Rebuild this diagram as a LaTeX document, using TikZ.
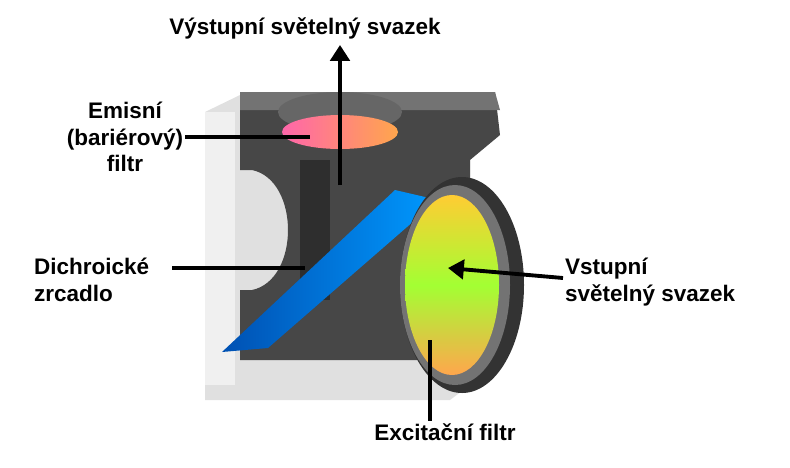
\documentclass[tikz,border=0pt]{standalone}
\usepackage{fontspec}
\setmainfont{Liberation Sans}
\usetikzlibrary{arrows.meta}
\usetikzlibrary{calc}

\tikzset{
    label/.style={font=\bfseries\fontsize{12.8}{15}\selectfont, inner sep=1pt},
    pointer/.style={line width=2.2pt, black},
    frame/.style={fill=black!72}
}

\begin{document}
\begin{tikzpicture}[x=0.02cm, y=-0.02cm]
        \useasboundingbox (0,0) rectangle (790,467);
        % transparent outer shell
        \fill[black!12] (205,112) -- (240,95) -- (470,95) -- (470,385) -- (450,400) -- (205,400) -- cycle;
        \fill[black!6] (205,112) -- (235,112) -- (235,385) -- (205,385) -- cycle;
        % dark holder
        \fill[frame] (240,92) -- (495,92) -- (500,135) -- (470,160) -- (470,360) -- (240,360) -- (240,290)
            -- (252,290) .. controls (300,280) and (300,180) .. (252,170) -- (240,170) -- cycle;
        \fill[black!55] (240,92) -- (495,92) -- (500,110) -- (240,110) -- cycle;
        \fill[black!82] (300,160) -- (330,160) -- (330,300) -- (300,300) -- cycle;
        % emission filter
        \fill[black!60] (340,112) ellipse (62 and 20);
        \shade[left color=red!55!magenta!60, right color=orange!70] (340,132) ellipse (58 and 17);
        % dichroic mirror
        \shade[left color=blue!55!cyan!70!black, right color=cyan!60!blue] (222,352) -- (395,190) -- (438,200) -- (268,348) -- cycle;
        % excitation filter
        \fill[black!80] (462,285) ellipse (62 and 108);
        \fill[black!55] (455,285) ellipse (55 and 100);
        \shade[top color=yellow!50!orange!80, bottom color=orange!70, middle color=green!45!yellow!80] (452,285) ellipse (47 and 90);
        % pointers and beams
        \coordinate (outEnd) at (340,45);
        \coordinate (outStart) at (340,185);
        \draw[pointer, -{Triangle[length=9pt, width=11pt]}] (outStart) -- (outEnd);
        \node[label] (outLabel) at (305,28) {Výstupní světelný svazek};
        \node[label, align=center] (emiLabel) at (125,137) {Emisní\\(bariérový)\\filtr};
        \coordinate (emiEnd) at (310,137);
        \draw[pointer] (emiLabel.east) -- (emiEnd);
        \node[label, align=left, anchor=west] (dichLabel) at (32,280) {Dichroické\\zrcadlo};
        \coordinate (dichStart) at (172,268);
        \coordinate (dichEnd) at (305,268);
        \draw[pointer] (dichStart) -- (dichEnd);
        \node[label, align=left, anchor=west] (inLabel) at (563,282) {Vstupní\\světelný svazek};
        \coordinate (inEnd) at (448,268);
        \draw[pointer, -{Triangle[length=9pt, width=11pt]}] (inLabel.west |- 0,278) -- (inEnd);
        \node[label] (excLabel) at (445,432) {Excitační filtr};
        \coordinate (excStart) at (430,340);
        \draw[pointer] (excStart) -- (excLabel.north -| excStart);
\end{tikzpicture}
\end{document}
